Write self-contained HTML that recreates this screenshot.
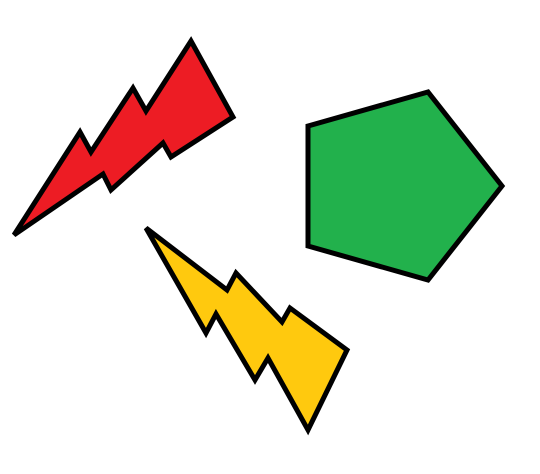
<!DOCTYPE html>
<html><head><meta charset="utf-8"><style>html,body{margin:0;padding:0;background:#fff;width:540px;height:474px;overflow:hidden}</style></head>
<body>
<svg width="540" height="474" viewBox="0 0 540 474">
<polygon fill="#ed1c24" stroke="#000" stroke-width="5" stroke-linejoin="miter" points="14,235 80,132 91,152 133,88 146,111 191,41 233,117 171,157 163,143 111,190 103,174"/>
<polygon fill="#ffc90e" stroke="#000" stroke-width="5" stroke-linejoin="miter" points="146,228 227,290 236,273 282,322 290,308 347,350 308,430 268,358 255,380 216,314 206,333"/>
<polygon fill="#22b14c" stroke="#000" stroke-width="5" stroke-linejoin="miter" points="308,126 428,92 502,186 428,280 308,246"/>
</svg>
</body></html>
